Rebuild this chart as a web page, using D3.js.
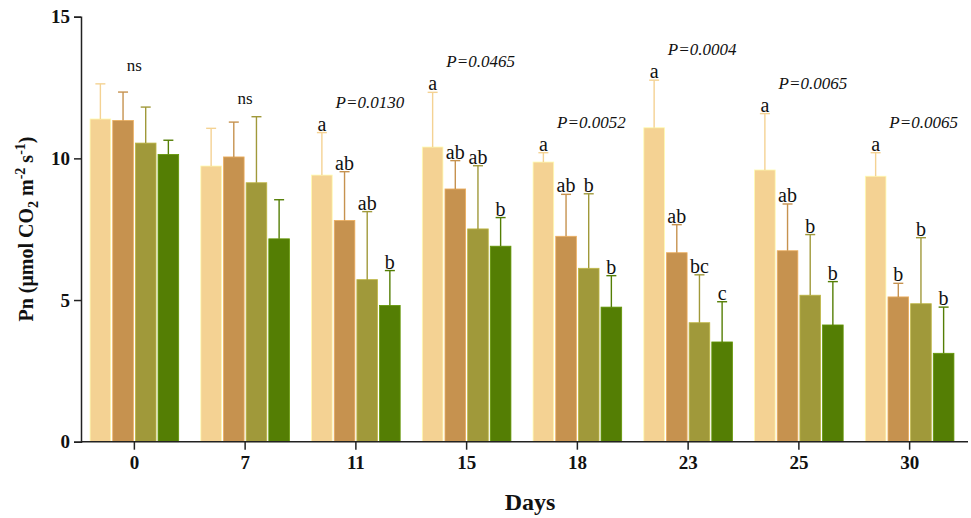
<!DOCTYPE html>
<html>
<head>
<meta charset="utf-8">
<script src="https://cdn.jsdelivr.net/npm/d3@7"></script>
<style>
  html, body { margin: 0; padding: 0; background: #fff; }
  svg { display: block; font-family: "Liberation Serif", "Times New Roman", serif; }
</style>
</head>
<body>
<svg id="chart" width="971" height="518"></svg>
<script>
// Sampling days
const days = ["0", "7", "11", "15", "18", "23", "25", "30"];
// Four treatments (legend not drawn)
const seriesNames = ["T1", "T2", "T3", "T4"];
const seriesColors = ["#F4D293", "#C6924F", "#A0993A", "#547E04"];

// Mean Pn per treatment, one entry per day
const meanT1 = [11.39, 9.73, 9.41, 10.40, 9.87, 11.08, 9.59, 9.37];
const meanT2 = [11.34, 10.05, 7.81, 8.92, 7.25, 6.67, 6.74, 5.11];
const meanT3 = [10.54, 9.14, 5.72, 7.51, 6.12, 4.20, 5.17, 4.87];
const meanT4 = [10.14, 7.16, 4.81, 6.90, 4.75, 3.52, 4.12, 3.12];

// Standard deviations (upper whisker only)
const sdT1 = [1.24, 1.33, 1.50, 1.93, 0.33, 1.68, 1.99, 0.83];
const sdT2 = [1.00, 1.23, 1.72, 1.00, 1.48, 0.99, 1.65, 0.48];
const sdT3 = [1.27, 2.33, 2.40, 2.23, 2.63, 1.69, 2.14, 2.33];
const sdT4 = [0.50, 1.38, 1.23, 1.01, 1.11, 1.42, 1.53, 1.63];

// Significance letters per day (null when not significant)
const lettersT1 = [null, null, "a", "a", "a", "a", "a", "a"];
const lettersT2 = [null, null, "ab", "ab", "ab", "ab", "ab", "b"];
const lettersT3 = [null, null, "ab", "ab", "b", "bc", "b", "b"];
const lettersT4 = [null, null, "b", "b", "b", "c", "b", "b"];

// ANOVA result label per day
const pLabels = ["ns", "ns", "P=0.0130", "P=0.0465", "P=0.0052", "P=0.0004", "P=0.0065", "P=0.0065"];

const yTicks = [0, 5, 10, 15];

const means = [meanT1, meanT2, meanT3, meanT4];
const sds = [sdT1, sdT2, sdT3, sdT4];
const letters = [lettersT1, lettersT2, lettersT3, lettersT4];

const rows = [];
days.forEach((d, i) => {
  seriesNames.forEach((s, k) => {
    rows.push({ day: d, series: s, k, mean: means[k][i], sd: sds[k][i], letter: letters[k][i] });
  });
});

const svg = d3.select("#chart");

const x = d3.scaleBand().domain(days).range([79, 965]).paddingInner(0.2).paddingOuter(0.1);
const xi = d3.scaleBand().domain(seriesNames).range([0, x.bandwidth()]).paddingInner(0.09);
const y = d3.scaleLinear().domain([0, 15]).range([441.7, 16.7]);
const color = d3.scaleOrdinal().domain(seriesNames).range(seriesColors);
const cx = d => x(d.day) + xi(d.series) + xi.bandwidth() / 2;

// Bars
const g = svg.append("g");
g.selectAll("rect.bar")
  .data(rows)
  .join("rect")
  .attr("class", "bar")
  .attr("x", d => x(d.day) + xi(d.series))
  .attr("y", d => y(d.mean))
  .attr("width", xi.bandwidth())
  .attr("height", d => y(0) - y(d.mean))
  .attr("fill", d => color(d.series))
  .attr("stroke", d => d3.color(color(d.series)).brighter(0.5))
  .attr("stroke-width", 0.8);

// Upper error whiskers
const cap = 5;
const eb = g.selectAll("g.err").data(rows).join("g").attr("class", "err")
  .attr("stroke", d => color(d.series))
  .attr("stroke-width", 1.4);
eb.append("line")
  .attr("x1", cx).attr("x2", cx)
  .attr("y1", d => y(d.mean))
  .attr("y2", d => y(d.mean + d.sd));
eb.append("line")
  .attr("x1", d => cx(d) - cap)
  .attr("x2", d => cx(d) + cap)
  .attr("y1", d => y(d.mean + d.sd))
  .attr("y2", d => y(d.mean + d.sd));

// Letters above whiskers
g.selectAll("text.letter")
  .data(rows.filter(d => d.letter))
  .join("text")
  .attr("class", "letter")
  .attr("x", cx)
  .attr("y", d => y(d.mean + d.sd) - 2)
  .attr("text-anchor", "middle")
  .attr("font-size", 20)
  .attr("fill", "#111")
  .text(d => d.letter);

// Per-day significance labels
g.selectAll("text.plab")
  .data(days.map((d, i) => {
    const top = d3.max(means.map((m, k) => m[i] + sds[k][i]));
    return { day: d, label: pLabels[i], top };
  }))
  .join("text")
  .attr("class", "plab")
  .attr("x", d => x(d.day) + x.bandwidth() / 2 + (d.label === "ns" ? 0 : 14))
  .attr("y", d => y(d.top) - (d.label === "ns" ? 19 : 31))
  .attr("dy", "0.35em")
  .attr("text-anchor", "middle")
  .attr("font-size", 17)
  .attr("font-style", d => d.label === "ns" ? "normal" : "italic")
  .attr("fill", "#111")
  .text(d => d.label);

// Y axis
const yAxis = svg.append("g")
  .attr("transform", "translate(81,0)")
  .call(d3.axisLeft(y).tickValues(yTicks).tickSize(7).tickPadding(4).tickFormat(d3.format("d")));
yAxis.select(".domain").attr("stroke", "#222").attr("stroke-width", 1.5);
yAxis.selectAll(".tick line").attr("stroke", "#222").attr("stroke-width", 1.5);
yAxis.selectAll(".tick text")
  .attr("font-family", "Liberation Serif, serif")
  .attr("font-weight", "bold")
  .attr("font-size", 19)
  .attr("fill", "#111");

// X axis
const xAxis = svg.append("g")
  .attr("transform", `translate(0,${y(0)})`)
  .call(d3.axisBottom(x).tickSize(8).tickPadding(6).tickSizeOuter(0));
xAxis.select(".domain").attr("stroke", "#222").attr("stroke-width", 1.5)
  .attr("d", "M81,0H968");
xAxis.selectAll(".tick line").attr("stroke", "#222").attr("stroke-width", 1.5);
xAxis.selectAll(".tick text")
  .attr("font-family", "Liberation Serif, serif")
  .attr("font-weight", "bold")
  .attr("font-size", 19)
  .attr("fill", "#111");

// Axis titles
svg.append("text")
  .attr("x", 530)
  .attr("y", 502)
  .attr("text-anchor", "middle")
  .attr("dy", "0.35em")
  .attr("font-weight", "bold")
  .attr("font-size", 24)
  .attr("fill", "#111")
  .text("Days");

const yl = svg.append("text")
  .attr("transform", "translate(33,229) rotate(-90)")
  .attr("text-anchor", "middle")
  .attr("font-weight", "bold")
  .attr("font-size", 20)
  .attr("fill", "#111");
yl.append("tspan").text("Pn (μmol CO");
yl.append("tspan").attr("font-size", 14).attr("dy", 5).text("2");
yl.append("tspan").attr("dy", -5).text(" m");
yl.append("tspan").attr("font-size", 14).attr("dy", -8).text("-2");
yl.append("tspan").attr("dy", 8).text(" s");
yl.append("tspan").attr("font-size", 14).attr("dy", -8).text("-1");
yl.append("tspan").attr("dy", 8).text(")");
</script>
</body>
</html>
